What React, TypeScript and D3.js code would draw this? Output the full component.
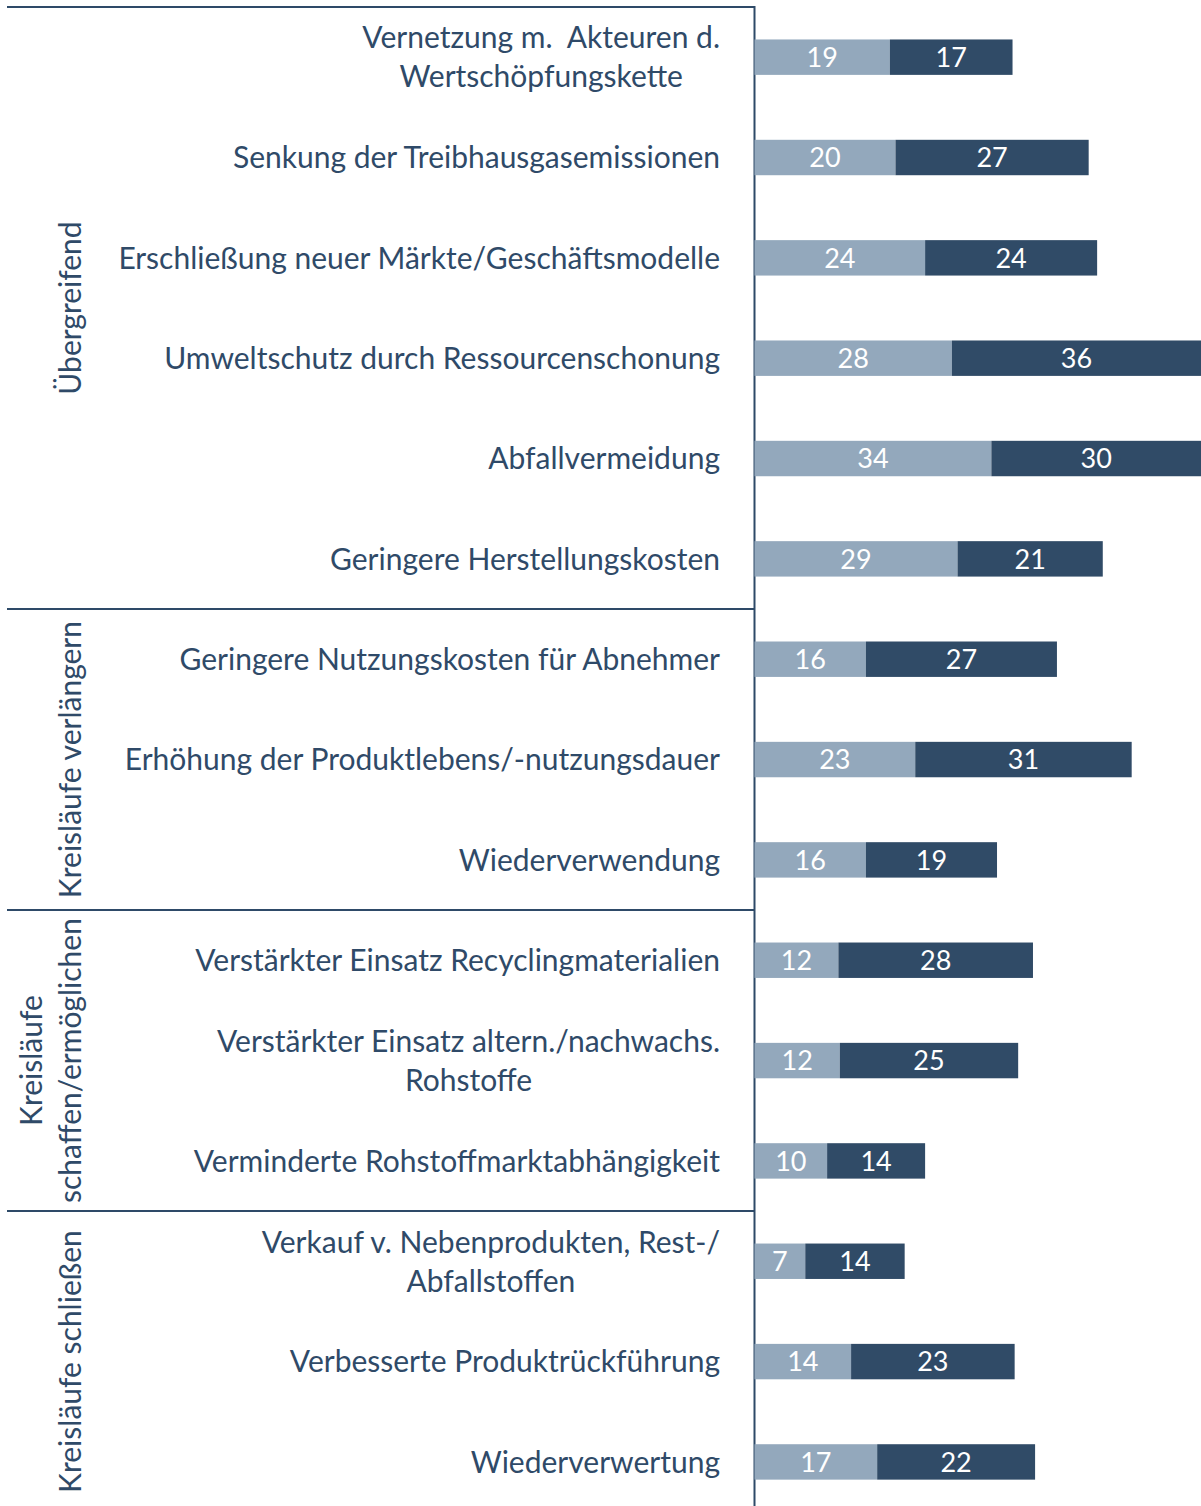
import React, { useLayoutEffect, useRef } from "react";
import * as d3 from "d3";

const categories: string[][] = [
  ["Vernetzung m.  Akteuren d.", "Wertschöpfungskette"],
  ["Senkung der Treibhausgasemissionen"],
  ["Erschließung neuer Märkte/Geschäftsmodelle"],
  ["Umweltschutz durch Ressourcenschonung"],
  ["Abfallvermeidung"],
  ["Geringere Herstellungskosten"],
  ["Geringere Nutzungskosten für Abnehmer"],
  ["Erhöhung der Produktlebens/-nutzungsdauer"],
  ["Wiederverwendung"],
  ["Verstärkter Einsatz Recyclingmaterialien"],
  ["Verstärkter Einsatz altern./nachwachs.", "Rohstoffe"],
  ["Verminderte Rohstoffmarktabhängigkeit"],
  ["Verkauf v. Nebenprodukten, Rest-/", "Abfallstoffen"],
  ["Verbesserte Produktrückführung"],
  ["Wiederverwertung"],
];

const seriesLight: number[] = [19.2, 20.0, 24.2, 28.0, 33.6, 28.8, 15.8, 22.8, 15.8, 11.9, 12.1, 10.3, 7.2, 13.7, 17.4];
const seriesDark: number[] = [17.4, 27.4, 24.4, 36.0, 30.0, 20.6, 27.1, 30.7, 18.6, 27.6, 25.3, 13.9, 14.1, 23.2, 22.4];

const groupLabels: string[][] = [
  ["Übergreifend"],
  ["Kreisläufe verlängern"],
  ["Kreisläufe", "schaffen/ermöglichen"],
  ["Kreisläufe schließen"],
];
const groupSizes: number[] = [6, 3, 3, 3];

const W = 1201;
const H = 1506;
const FONT = "Lato, 'Open Sans', sans-serif";
const TEXT = "#2f4a68";
const LIGHT = "#93a8bc";
const DARK = "#304b67";
const LINE = "#2e4a68";

export default function App() {
  const svgRef = useRef<SVGSVGElement>(null);
  const x0 = 754.5;
  const top = 7;
  const stepPx = 100.34;
  const n = categories.length;
  const x = d3.scaleLinear().domain([0, 64]).range([x0, x0 + 64 * 7.05]);
  const y = d3
    .scaleBand<number>()
    .domain(d3.range(n))
    .range([top, top + n * stepPx])
    .paddingInner(0.647)
    .paddingOuter(0.3235);
  const bw = y.bandwidth();
  const fs = 30;
  const nfs = 27;
  const labelRight = 720;
  const lineH = 39;

  const bounds: number[] = [top];
  let acc = 0;
  groupSizes.forEach((s) => {
    acc += s;
    bounds.push(top + acc * y.step());
  });

  useLayoutEffect(() => {
    const svg = d3.select(svgRef.current);
    svg.selectAll<SVGTextElement, unknown>("text.multi").each(function () {
      const spans = d3.select(this).selectAll<SVGTSpanElement, unknown>("tspan");
      let maxW = 0;
      spans.each(function () {
        maxW = Math.max(maxW, this.getComputedTextLength());
      });
      spans.attr("x", labelRight - maxW / 2);
    });
  }, []);

  return (
    <svg
      ref={svgRef}
      width={W}
      height={H}
      style={{ position: "absolute", left: 0, top: 0, background: "#fff" }}
      fontFamily={FONT}
    >
      {bounds.slice(0, 4).map((b, i) => (
        <line key={"s" + i} x1={7} x2={x0} y1={b} y2={b} stroke={LINE} strokeWidth={2} />
      ))}
      <line x1={x0} x2={x0} y1={top - 1} y2={H} stroke={LINE} strokeWidth={2} />

      {categories.map((lines, i) => {
        const cy = (y(i) as number) + bw / 2;
        if (lines.length === 1) {
          return (
            <text key={"c" + i} x={labelRight} y={cy + fs * 0.36} textAnchor="end" fontSize={fs} fill={TEXT}>
              {lines[0]}
            </text>
          );
        }
        return (
          <text key={"c" + i} className="multi" fontSize={fs} fill={TEXT} textAnchor="middle" style={{ whiteSpace: "pre" }}>
            {lines.map((l, j) => (
              <tspan key={j} x={labelRight - 180} y={cy + (j - (lines.length - 1) / 2) * lineH + fs * 0.36}>
                {l}
              </tspan>
            ))}
          </text>
        );
      })}

      {groupLabels.map((lines, gi) => {
        const cy = (bounds[gi] + bounds[gi + 1]) / 2;
        const baseX = 81;
        return (
          <text key={"g" + gi} transform={`translate(0,${cy}) rotate(-90)`} textAnchor="middle" fontSize={fs} fill={TEXT}>
            {lines.map((l, j) => (
              <tspan key={j} x={0} y={baseX - (lines.length - 1 - j) * lineH}>
                {l}
              </tspan>
            ))}
          </text>
        );
      })}

      {categories.map((_, i) => {
        const by = y(i) as number;
        const a = seriesLight[i];
        const b = seriesDark[i];
        const xa0 = x(0);
        const xa1 = x(a);
        const xb1 = x(a + b);
        const visEnd = Math.min(xb1, W);
        return (
          <g key={"b" + i}>
            <rect x={xa0} y={by} width={xa1 - xa0} height={bw} fill={LIGHT} />
            <rect x={xa1} y={by} width={xb1 - xa1} height={bw} fill={DARK} />
            <text x={(xa0 + xa1) / 2} y={by + bw / 2 + nfs * 0.36} textAnchor="middle" fontSize={nfs} fill="#fff">
              {Math.round(a)}
            </text>
            <text x={(xa1 + visEnd) / 2} y={by + bw / 2 + nfs * 0.36} textAnchor="middle" fontSize={nfs} fill="#fff">
              {Math.round(b)}
            </text>
          </g>
        );
      })}
    </svg>
  );
}
